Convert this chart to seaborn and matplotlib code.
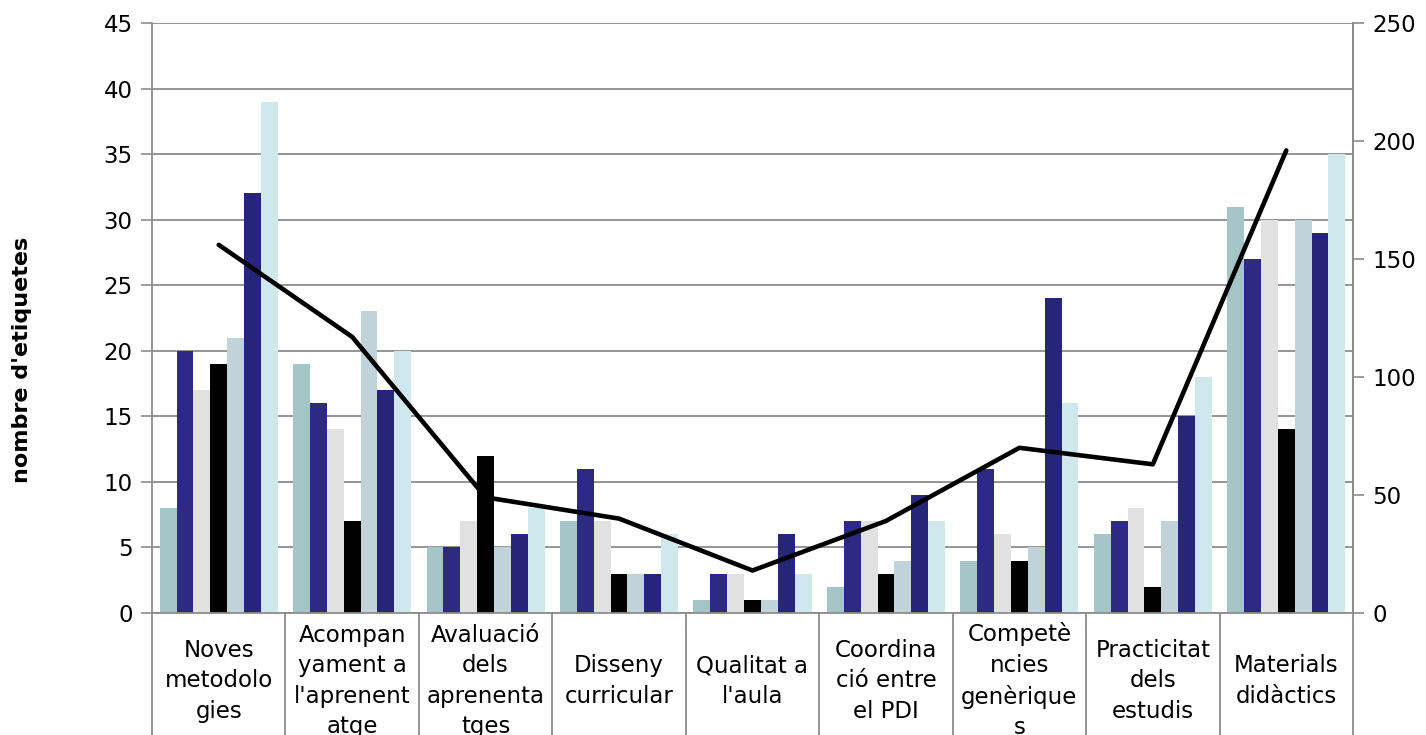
import numpy as np
import pandas as pd
import matplotlib
matplotlib.use("Agg")
import matplotlib.pyplot as plt
import matplotlib.transforms as mtransforms
import seaborn as sns

# categories (labels already broken as in the original chart cells)
categories = ["Noves\nmetodolo\ngies", "Acompan\nyament a\nl'aprenent\natge",
              "Avaluació\ndels\naprenenta\ntges", "Disseny\ncurricular",
              "Qualitat a\nl'aula", "Coordina\nció entre\nel PDI",
              "Competè\nncies\ngenèrique\ns", "Practicitat\ndels\nestudis",
              "Materials\ndidàctics"]

# seven bar series (left axis, nombre d'etiquetes)
serie_1 = [8, 19, 5, 7, 1, 2, 4, 6, 31]
serie_2 = [20, 16, 5, 11, 3, 7, 11, 7, 27]
serie_3 = [17, 14, 7, 7, 3, 7, 6, 8, 30]
serie_4 = [19, 7, 12, 3, 1, 3, 4, 2, 14]
serie_5 = [21, 23, 5, 3, 1, 4, 5, 7, 30]
serie_6 = [32, 17, 6, 3, 6, 9, 24, 15, 29]
serie_7 = [39, 20, 8, 6, 3, 7, 16, 18, 35]

# total line (right axis)
total = [156, 117, 49, 40, 18, 39, 70, 63, 196]

colors = ["#A5C6C8", "#2E2A84", "#E1E1E1", "#000000", "#C0D3D8", "#27257A", "#CFE8EB"]

series = [serie_1, serie_2, serie_3, serie_4, serie_5, serie_6, serie_7]
rows = []
for k, vals in enumerate(series):
    for cat, v in zip(categories, vals):
        rows.append({"categoria": cat, "serie": f"s{k+1}", "valor": v})
df = pd.DataFrame(rows)

sns.set_style("white")
plt.rcParams["font.family"] = ["DejaVu Sans"]
plt.rcParams["text.color"] = "black"
plt.rcParams["ytick.labelcolor"] = "black"

fig = plt.figure(figsize=(14.26, 7.35), dpi=100)
ax = fig.add_axes([152/1426, 1 - 613/735, (1353 - 152)/1426, (613 - 23)/735])

sns.barplot(data=df, x="categoria", y="valor", hue="serie", palette=colors,
            width=0.885, saturation=1, legend=False, ax=ax, linewidth=0)

grid_c = "#8C8C8C"
ax.set_ylim(0, 45)
ax.set_yticks(range(0, 46, 5))
ax.yaxis.grid(True, color=grid_c, linewidth=1.3)
ax.set_axisbelow(True)
ax.set_xlim(-0.5, 8.5)
ax.set_xticks([])
ax.set_xlabel("")
ax.set_ylabel("")
ax.tick_params(axis="y", labelsize=16.5, length=8, width=1.2, color=grid_c,
               labelcolor="black", pad=6)
ax.spines["top"].set_visible(False)
for s in ["left", "bottom", "right"]:
    ax.spines[s].set_color(grid_c)
    ax.spines[s].set_linewidth(1.3)

ax2 = ax.twinx()
sns.lineplot(x=np.arange(len(categories)), y=total, ax=ax2, color="black",
             linewidth=3.3, solid_capstyle="round")
ax2.set_ylim(0, 250)
ax2.set_yticks(range(0, 251, 50))
ax2.tick_params(axis="y", labelsize=16.5, length=8, width=1.2, color=grid_c,
                labelcolor="black", pad=6)
ax2.set_ylabel("")
for s in ["top", "left", "bottom"]:
    ax2.spines[s].set_visible(False)
ax2.spines["right"].set_color(grid_c)
ax2.spines["right"].set_linewidth(1.3)

# category cells below the axis
trans = mtransforms.blended_transform_factory(ax.transData, ax.transAxes)
for b in np.arange(-0.5, len(categories), 1.0):
    ax.plot([b, b], [0, -0.3], transform=trans, color=grid_c, linewidth=1.3,
            clip_on=False)
for i, cat in enumerate(categories):
    ax.text(i, -0.115, cat, transform=trans, ha="center", va="center",
            fontsize=16.5, linespacing=1.42, color="black", clip_on=False)

fig.text(22/1426, 1 - 360/735, "nombre d'etiquetes", rotation=90, ha="center",
         va="center", fontsize=16, fontweight="bold", color="black")

fig.savefig("out.png", dpi=100)
